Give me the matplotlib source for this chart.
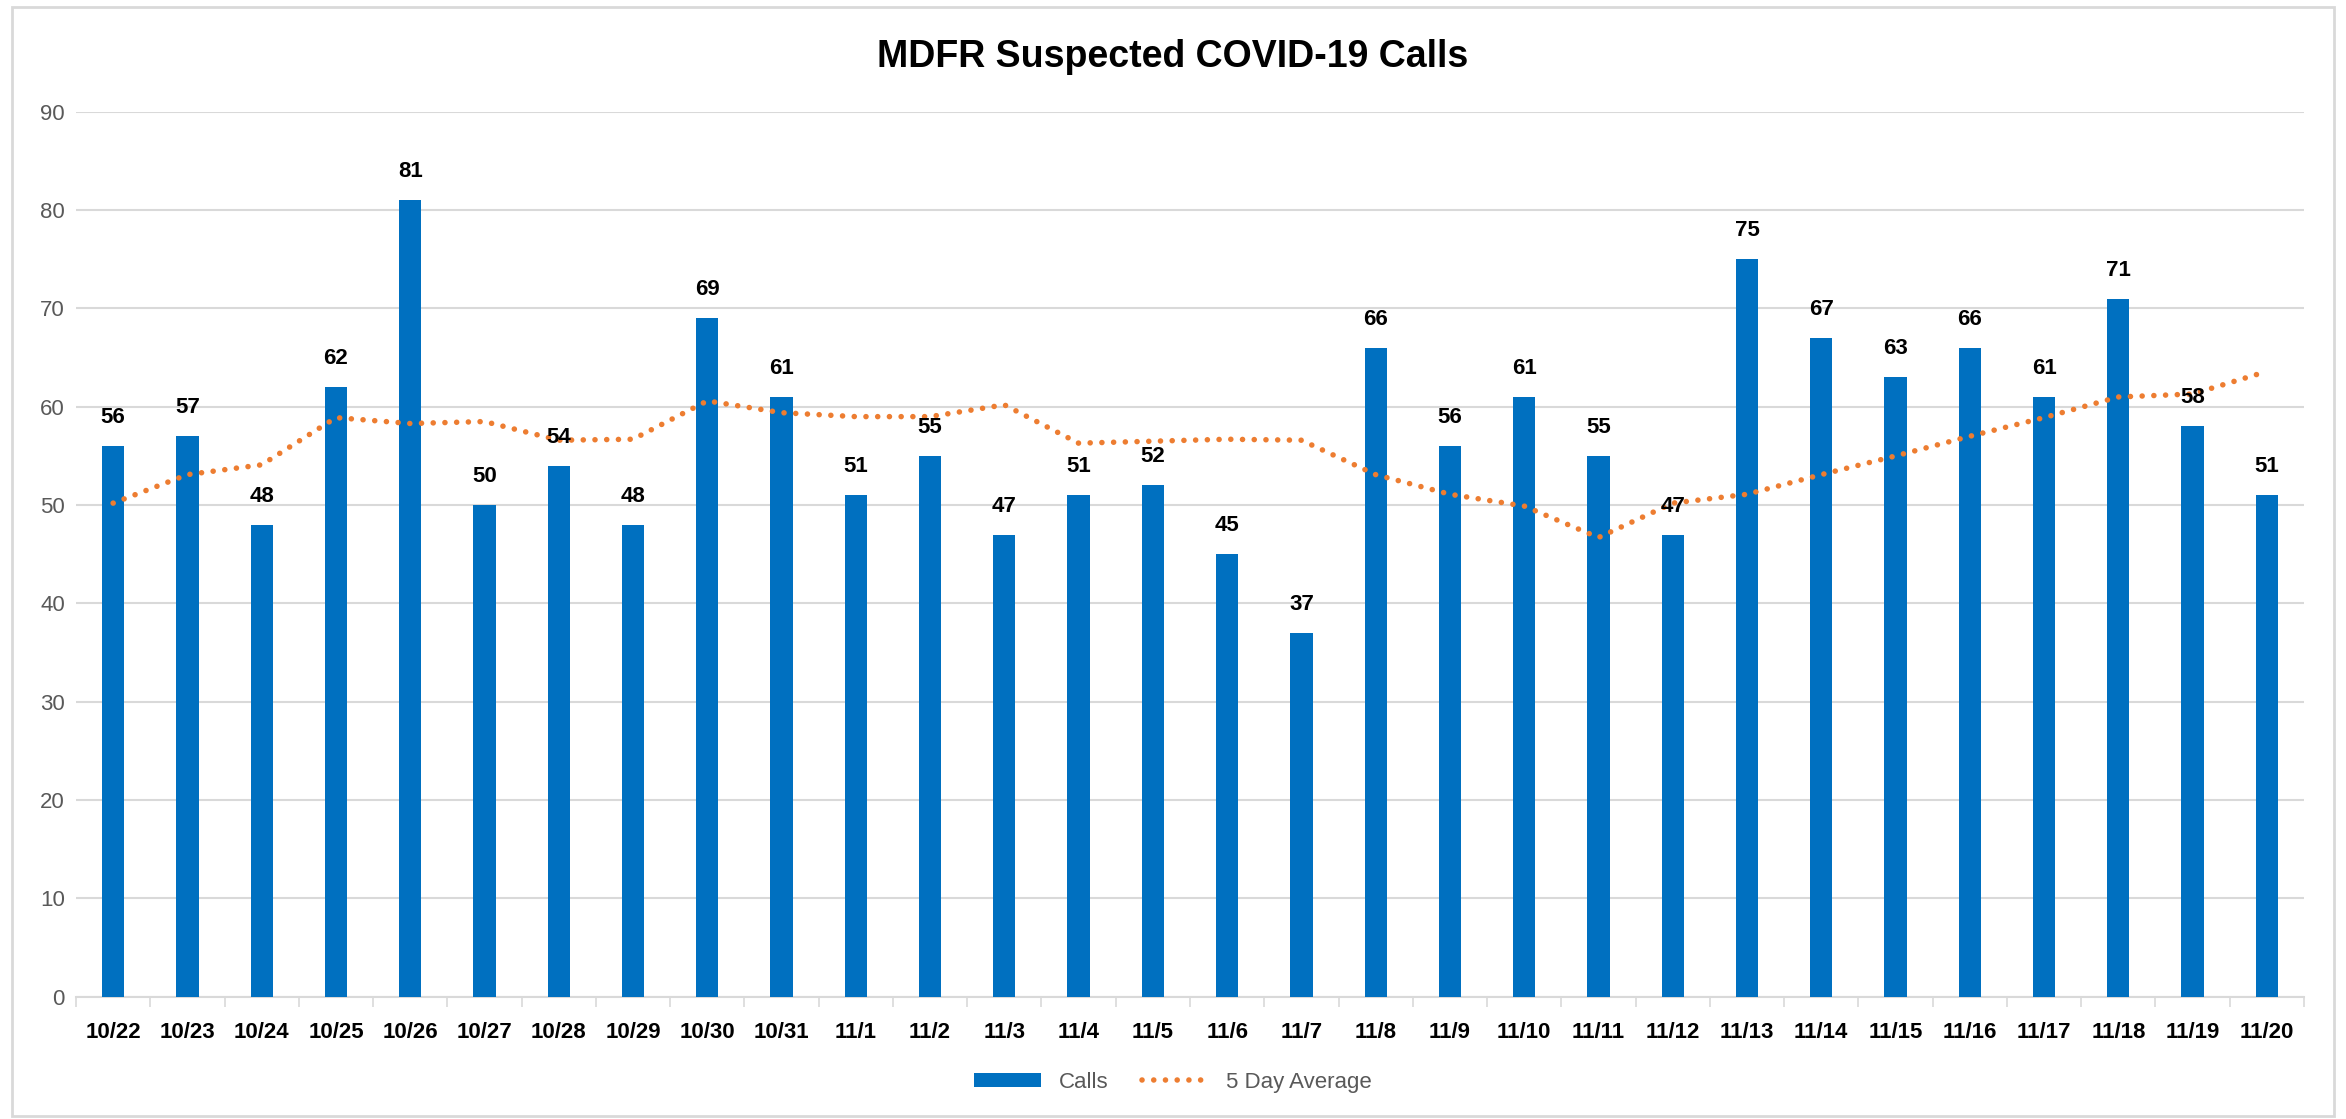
import matplotlib
matplotlib.use("Agg")
import matplotlib.pyplot as plt
from matplotlib.patches import Rectangle
import numpy as np

plt.rcParams['font.family'] = ['Liberation Sans Narrow', 'Liberation Sans', 'DejaVu Sans']

# data
dates = ['10/22', '10/23', '10/24', '10/25', '10/26', '10/27', '10/28', '10/29', '10/30', '10/31',
         '11/1', '11/2', '11/3', '11/4', '11/5', '11/6', '11/7', '11/8', '11/9', '11/10',
         '11/11', '11/12', '11/13', '11/14', '11/15', '11/16', '11/17', '11/18', '11/19', '11/20']
calls = [56, 57, 48, 62, 81, 50, 54, 48, 69, 61,
         51, 55, 47, 51, 52, 45, 37, 66, 56, 61,
         55, 47, 75, 67, 63, 66, 61, 71, 58, 51]
avg5 = [50.2, 53.1, 54.1, 58.9, 58.3, 58.5, 56.6, 56.7, 60.6, 59.4,
        59.0, 59.0, 60.2, 56.3, 56.5, 56.7, 56.6, 53.1, 51.1, 49.9,
        46.7, 50.2, 51.1, 53.1, 55.0, 57.0, 58.9, 61.0, 61.3, 63.6]
yticks = list(range(0, 100, 10))

blue = '#0070C0'
orange = '#ED7D31'
grid_c = '#D9D9D9'
gray_txt = '#595959'

fig = plt.figure(figsize=(23.46, 11.19), dpi=100)
ax = fig.add_axes([0.0324, 0.1094, 0.9497, 0.7906])

x = np.arange(len(dates))
bars = ax.bar(x, calls, width=0.30, color=blue, zorder=3, label='Calls')
line, = ax.plot(x, avg5, color=orange, lw=4, linestyle=(0, (0.01, 2.1)),
                dash_capstyle='round', zorder=4, label='5 Day Average')

# value labels above bars
for xi, v in zip(x, calls):
    ax.annotate(str(v), (xi, v), xytext=(0, 13), textcoords='offset points',
                ha='center', va='bottom', fontsize=16, fontweight='bold', color='black', zorder=5)

ax.set_xlim(-0.5, len(dates) - 0.5)
ax.set_ylim(0, 90)
ax.set_yticks(yticks)
ax.set_yticklabels([str(t) for t in yticks], fontsize=16, color=gray_txt)
ax.grid(axis='y', color=grid_c, lw=1.5, zorder=0)

# category labels at centres, tick marks at boundaries
ax.set_xticks(x)
ax.set_xticklabels(dates, fontsize=16, fontweight='bold', color='black')
ax.tick_params(axis='x', which='major', length=0, pad=18)
ax.set_xticks(np.arange(-0.5, len(dates)), minor=True)
ax.tick_params(axis='x', which='minor', length=7, width=1.2, color=grid_c)
ax.tick_params(axis='y', length=0, pad=8)

for s in ['top', 'right', 'left']:
    ax.spines[s].set_visible(False)
ax.spines['bottom'].set_color(grid_c)
ax.spines['bottom'].set_linewidth(1.5)

fig.suptitle('MDFR Suspected COVID-19 Calls', x=0.5, y=0.965, fontsize=27,
             fontweight='bold', color='black')

leg = fig.legend([bars, line], ['Calls', '5 Day Average'], loc='center',
                 bbox_to_anchor=(0.5, 0.033), ncol=2, frameon=False,
                 fontsize=16, handlelength=3.0, handleheight=0.6, columnspacing=1.5)
for t in leg.get_texts():
    t.set_color(gray_txt)

# light outer border
fig.patches.append(Rectangle((0.005, 0.003), 0.99, 0.991, transform=fig.transFigure,
                             fill=False, edgecolor=grid_c, lw=2))

fig.savefig('out.png', dpi=100)
